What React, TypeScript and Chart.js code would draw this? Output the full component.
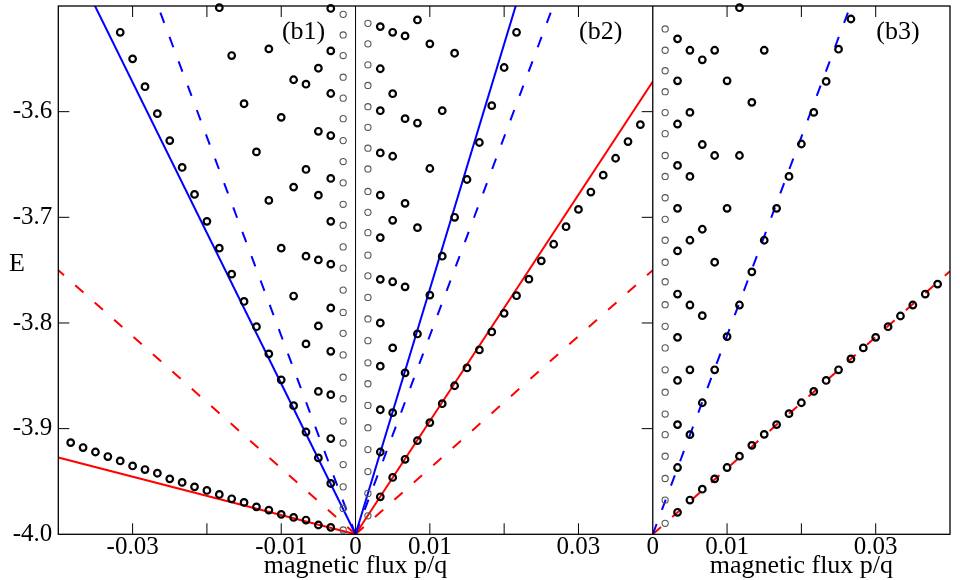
import { useEffect, useRef } from 'react';
import { Chart, registerables } from 'chart.js';

Chart.register(...registerables);

// ---------- data ----------
// flux values p/q = k/600, k = 1..23
const fluxLeft = [-0.001667, -0.003333, -0.005, -0.006667, -0.008333, -0.01, -0.011667, -0.013333, -0.015, -0.016667, -0.018333, -0.02, -0.021667, -0.023333, -0.025, -0.026667, -0.028333, -0.03, -0.031667, -0.033333, -0.035, -0.036667, -0.038333];
const fluxRight = [0.001667, 0.003333, 0.005, 0.006667, 0.008333, 0.01, 0.011667, 0.013333, 0.015, 0.016667, 0.018333, 0.02, 0.021667, 0.023333, 0.025, 0.026667, 0.028333, 0.03, 0.031667, 0.033333, 0.035, 0.036667, 0.038333];

// (b1)
const b1Thin = [-3.9959, -3.9755, -3.9551, -3.934, -3.9136, -3.8928, -3.8717, -3.8513, -3.8302, -3.8098, -3.79, -3.7689, -3.7481, -3.728, -3.7075, -3.6877, -3.6674, -3.6472, -3.6274, -3.6066, -3.5872, -3.5674, -3.5469, -3.5274, -3.5079];
const b1Lower = [-3.9934, -3.9912, -3.9865, -3.984, -3.9811, -3.9771, -3.974, -3.9698, -3.9664, -3.9623, -3.9585, -3.9551, -3.9509, -3.9475, -3.9422, -3.9387, -3.9353, -3.9306, -3.9264, -3.9221, -3.9179, -3.9132];
const b1Blue = [-3.9519, -3.9277, -3.9032, -3.8783, -3.8538, -3.8292, -3.8035, -3.7796, -3.7538, -3.7292, -3.7038, -3.6783, -3.6528, -3.6274, -3.6019, -3.5764, -3.55, -3.5249];
const b1Upper = [
  [-3.5023, -3.5425, -3.5828, -3.6226, -3.6632, -3.7038, -3.7443, -3.7858, -3.8268, -3.8679, -3.9094],
  [-3.5589, -3.6186, -3.679, -3.7403, -3.8028, -3.8648],
  [-3.574, -3.6547, -3.7368, -3.8198],
  [-3.5698, -3.6714, -3.7745],
  [-3.6054, -3.7292],
  [-3.5406, -3.684],
  [-3.6381],
  [-3.5925],
  [-3.5469],
  [-3.5016],
];

// (b2)
const b2Thin = [-3.5164, -3.5358, -3.5557, -3.5752, -3.5953, -3.6148, -3.6346, -3.6542, -3.6755, -3.6953, -3.7145, -3.7358, -3.7554, -3.7758, -3.7962, -3.8167, -3.8377, -3.8575, -3.878, -3.8991, -3.9198, -3.9406, -3.9613, -3.9825];
const b2Red = [-3.9645, -3.9462, -3.929, -3.9113, -3.8943, -3.8764, -3.8594, -3.8425, -3.8255, -3.8085, -3.7909, -3.7742, -3.7585, -3.7412, -3.7255, -3.7089, -3.6925, -3.6761, -3.6601, -3.6441, -3.6283, -3.6123];
const b2Blue = [-3.9221, -3.8849, -3.8472, -3.8104, -3.7736, -3.7368, -3.7, -3.6642, -3.6292, -3.5943, -3.5582, -3.5249];
const b2Upper = [
  [-3.5195, -3.5594, -3.5991, -3.6391, -3.679, -3.7192, -3.7587, -3.8, -3.8409, -3.8821],
  [-3.5249, -3.583, -3.6422, -3.7028, -3.761, -3.8236],
  [-3.5283, -3.6066, -3.6868, -3.7658],
  [-3.5132, -3.6108, -3.7098],
  [-3.5358, -3.6538],
  [-3.5991],
  [-3.5447],
];

// (b3)
const b3Thin = [-3.5217, -3.5419, -3.5613, -3.5811, -3.6009, -3.6208, -3.6415, -3.6613, -3.6815, -3.7019, -3.7217, -3.7425, -3.761, -3.7827, -3.8032, -3.8236, -3.8443, -3.8655, -3.8862, -3.9057, -3.9261, -3.9472, -3.9676, -3.9896];
const b3Red = [-3.9792, -3.9676, -3.9573, -3.9475, -3.9368, -3.9261, -3.9158, -3.9054, -3.8962, -3.8858, -3.8755, -3.8648, -3.8544, -3.8443, -3.834, -3.8236, -3.8136, -3.8035, -3.7934, -3.783, -3.7726, -3.7632];
const b3Blue = [-3.9368, -3.9057, -3.8755, -3.8443, -3.8129, -3.783, -3.7516, -3.7217, -3.6915, -3.6613, -3.6306, -3.6007, -3.5714, -3.5409, -3.5123];
const b3Upper = [
  [-3.5311, -3.5708, -3.6117, -3.6509, -3.6915, -3.7318, -3.7726, -3.8136, -3.8544, -3.8962],
  [-3.5419, -3.6007, -3.6613, -3.7217, -3.783, -3.8443],
  [-3.5509, -3.6311, -3.7113, -3.7931],
  [-3.5419, -3.6415, -3.7425],
  [-3.5708, -3.6915],
  [-3.5016, -3.6415],
  [-3.5912],
  [-3.5419],
];

// fitted lines from origin (0,-4) to the panel edge: blue solid, blue dashed, red solid, red dashed
const lineOrigin = [0, -4];
const b1LineEnds = [[-0.04, -3.4296], [-0.04, -3.248], [-0.04, -3.9274], [-0.04, -3.75]];
const b2LineEnds = [[0.04, -3.072], [0.04, -3.248], [0.04, -3.5714], [0.04, -3.75]];
// blue dashed, red dashed
const b3LineEnds = [[0.04, -3.248], [0.04, -3.751]];

// labels
const yTickLabels = [-4.0, -3.9, -3.8, -3.7, -3.6];
const x1TickLabels = [-0.03, -0.01, 0, 0.01, 0.03];
const x2TickLabels = [0, 0.01, 0.03];
const panelLabels = ['(b1)', '(b2)', '(b3)'];
const xTitle = 'magnetic flux p/q';
const yTitle = 'E';

// ---------- helpers ----------
const FONT = '"Liberation Serif", "Times New Roman", serif';
type P = { x: number; y: number };

const rowPoints = (fluxes: number[], es: number[], kStart: number): P[] =>
  es.map((e, i) => ({ x: fluxes[kStart - 1 + i], y: e }));
const colPoints = (flux: number, es: number[]): P[] => es.map((e) => ({ x: flux, y: e }));
const upperPoints = (fluxes: number[], cols: number[][]): P[] =>
  cols.flatMap((col, i) => colPoints(fluxes[i + 1], col));

const boldSet = (data: P[], xAxisID: string) => ({
  data,
  xAxisID,
  yAxisID: 'y',
  showLine: false,
  pointStyle: 'circle',
  pointRadius: 3.3,
  pointHoverRadius: 3.3,
  pointBorderWidth: 2.2,
  pointBorderColor: '#000',
  pointBackgroundColor: 'rgba(0,0,0,0)',
  clip: false as const,
});
const thinSet = (data: P[], xAxisID: string) => ({
  data,
  xAxisID,
  yAxisID: 'y',
  showLine: false,
  pointStyle: 'circle',
  pointRadius: 3.1,
  pointHoverRadius: 3.1,
  pointBorderWidth: 1.1,
  pointBorderColor: '#555',
  pointBackgroundColor: 'rgba(0,0,0,0)',
  clip: false as const,
});
const lineSet = (end: number[], color: string, dashed: boolean, xAxisID: string) => ({
  data: [
    { x: lineOrigin[0], y: lineOrigin[1] },
    { x: end[0], y: end[1] },
  ],
  xAxisID,
  yAxisID: 'y',
  showLine: true,
  borderColor: color,
  borderWidth: 2,
  borderDash: dashed ? [11, 15] : [],
  pointRadius: 0,
  pointHoverRadius: 0,
  fill: false,
});

const near = (a: number, b: number) => Math.abs(a - b) < 1e-6;
const fmtX = (v: number, list: number[]) => {
  const r = Math.round(v * 1000) / 1000;
  if (!list.some((l) => near(l, r))) return '';
  return near(r, 0) ? '0' : r.toFixed(2);
};
const fmtY = (v: number) => {
  const r = Math.round(v * 100) / 100;
  return yTickLabels.some((l) => near(l, r)) ? r.toFixed(1) : '';
};

const zeroPad = (s: any) => {
  s.paddingTop = 0;
  s.paddingBottom = 0;
  s.paddingLeft = 0;
  s.paddingRight = 0;
};

const framePlugin = {
  id: 'frameTicks',
  afterDatasetsDraw(chart: any) {
    const { ctx, chartArea: a, scales } = chart;
    const x1 = scales.x1;
    const x2 = scales.x2;
    const y = scales.y;
    const T = 11;
    ctx.save();
    ctx.strokeStyle = '#000';
    // zero line of left panel
    ctx.lineWidth = 1;
    const z = x1.getPixelForValue(0);
    ctx.beginPath();
    ctx.moveTo(z, a.top);
    ctx.lineTo(z, a.bottom);
    ctx.stroke();
    // frame and separator
    ctx.lineWidth = 1.3;
    ctx.strokeRect(a.left, a.top, a.right - a.left, a.bottom - a.top);
    ctx.beginPath();
    ctx.moveTo(x1.right, a.top);
    ctx.lineTo(x1.right, a.bottom);
    ctx.stroke();
    // x ticks, inward, top and bottom
    ctx.lineWidth = 1;
    ctx.beginPath();
    for (const sc of [x1, x2]) {
      for (const t of sc.ticks) {
        if (near(t.value, sc.min) || near(t.value, sc.max) || (sc === x1 && near(t.value, 0))) continue;
        const p = sc.getPixelForValue(t.value);
        ctx.moveTo(p, a.bottom);
        ctx.lineTo(p, a.bottom - T);
        ctx.moveTo(p, a.top);
        ctx.lineTo(p, a.top + T);
      }
    }
    // y ticks on left edge and on right edge of left panel
    for (const t of y.ticks) {
      if (near(t.value, y.min) || near(t.value, y.max)) continue;
      const p = y.getPixelForValue(t.value);
      ctx.moveTo(a.left, p);
      ctx.lineTo(a.left + T, p);
      ctx.moveTo(x1.right, p);
      ctx.lineTo(x1.right - T, p);
    }
    ctx.stroke();
    // panel labels
    ctx.fillStyle = '#000';
    ctx.font = `26px ${FONT}`;
    ctx.textAlign = 'center';
    ctx.textBaseline = 'alphabetic';
    const rights = [z, x1.right, x2.right];
    panelLabels.forEach((lab, i) => ctx.fillText(lab, rights[i] - 52, a.top + 33));
    // y title (upright)
    ctx.fillText(yTitle, 17, (a.top + a.bottom) / 2 + 1);
    ctx.restore();
  },
};

const tickFont = { family: FONT, size: 25, lineHeight: 1 };
const titleFont = { family: FONT, size: 26, lineHeight: 1 };

export default function App() {
  const ref = useRef<HTMLCanvasElement | null>(null);
  useEffect(() => {
    if (!ref.current) return;
    const datasets: any[] = [
      // (b1)
      thinSet(colPoints(fluxLeft[0], b1Thin), 'x1'),
      boldSet(rowPoints(fluxLeft, b1Lower, 2), 'x1'),
      boldSet(rowPoints(fluxLeft, b1Blue, 2), 'x1'),
      boldSet(upperPoints(fluxLeft, b1Upper), 'x1'),
      // (b2)
      thinSet(colPoints(fluxRight[0], b2Thin), 'x1'),
      boldSet(rowPoints(fluxRight, b2Red, 2), 'x1'),
      boldSet(rowPoints(fluxRight, b2Blue, 2), 'x1'),
      boldSet(upperPoints(fluxRight, b2Upper), 'x1'),
      // (b3)
      thinSet(colPoints(fluxRight[0], b3Thin), 'x2'),
      boldSet(rowPoints(fluxRight, b3Red, 2), 'x2'),
      boldSet(rowPoints(fluxRight, b3Blue, 2), 'x2'),
      boldSet(upperPoints(fluxRight, b3Upper), 'x2'),
      // lines
      lineSet(b1LineEnds[0], '#0000ff', false, 'x1'),
      lineSet(b1LineEnds[1], '#0000ff', true, 'x1'),
      lineSet(b1LineEnds[2], '#ff0000', false, 'x1'),
      lineSet(b1LineEnds[3], '#ff0000', true, 'x1'),
      lineSet(b2LineEnds[0], '#0000ff', false, 'x1'),
      lineSet(b2LineEnds[1], '#0000ff', true, 'x1'),
      lineSet(b2LineEnds[2], '#ff0000', false, 'x1'),
      lineSet(b2LineEnds[3], '#ff0000', true, 'x1'),
      lineSet(b3LineEnds[0], '#0000ff', true, 'x2'),
      lineSet(b3LineEnds[1], '#ff0000', true, 'x2'),
    ];
    const xScale = (min: number, max: number, weight: number, labels: number[]) => ({
      type: 'linear',
      position: 'bottom',
      stack: 'flux',
      stackWeight: weight,
      min,
      max,
      offset: false,
      grid: { display: false, drawTicks: false },
      border: { display: false },
      ticks: {
        stepSize: 0.01,
        autoSkip: false,
        maxRotation: 0,
        minRotation: 0,
        padding: 1,
        color: '#000',
        font: tickFont,
        callback: (v: any) => fmtX(Number(v), labels),
      },
      title: {
        display: true,
        text: xTitle,
        color: '#000',
        font: titleFont,
        padding: { top: 0, bottom: 1 },
      },
      afterFit: (s: any) => {
        s.height = 45.7;
        zeroPad(s);
      },
    });
    const chart = new Chart(ref.current, {
      type: 'scatter',
      data: { datasets },
      options: {
        animation: false,
        responsive: false,
        events: [],
        layout: { padding: { top: 6, right: 10, left: 0, bottom: 0 } },
        plugins: { legend: { display: false }, tooltip: { enabled: false } },
        scales: {
          x1: xScale(-0.04, 0.04, 2, x1TickLabels),
          x2: xScale(0, 0.04, 1, x2TickLabels),
          y: {
            type: 'linear',
            position: 'left',
            min: -4,
            max: -3.5,
            grid: { display: false, drawTicks: false },
            border: { display: false },
            ticks: {
              stepSize: 0.1,
              autoSkip: false,
              padding: 6,
              color: '#000',
              font: tickFont,
              callback: (v: any) => fmtY(Number(v)),
            },
            afterFit: (s: any) => {
              s.width = 58.3;
              zeroPad(s);
            },
          },
        } as any,
      },
      plugins: [framePlugin],
    });
    return () => chart.destroy();
  }, []);
  return (
    <div style={{ position: 'fixed', left: 0, top: 0, width: 960, height: 580, background: '#fff' }}>
      <canvas ref={ref} width={960} height={580} style={{ width: 960, height: 580 }} />
    </div>
  );
}
